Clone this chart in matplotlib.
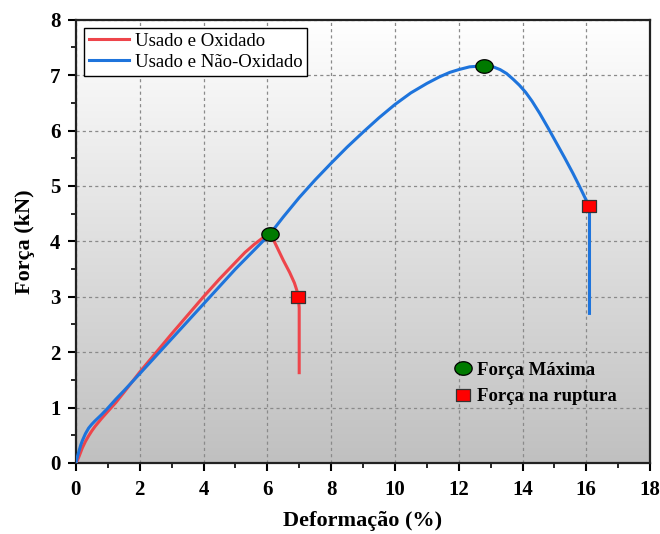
import numpy as np
import matplotlib
matplotlib.use("Agg")
import matplotlib.pyplot as plt
from matplotlib.path import Path
from matplotlib.lines import Line2D
from matplotlib.colors import LinearSegmentedColormap

# --- data ---
x_oxid = [0, 0.05, 0.1, 0.2, 0.3, 0.4, 0.5, 0.6, 0.8, 1.0, 1.25, 1.5, 2.0, 3.0, 4.0, 4.5, 5.0,
          5.3, 5.6, 5.85, 6.08, 6.15, 6.3, 6.5, 6.7, 6.85, 6.94, 6.97, 7.0, 7.0]
y_oxid = [0, 0.05, 0.12, 0.27, 0.39, 0.49, 0.58, 0.66, 0.80, 0.93, 1.09, 1.27, 1.64, 2.33, 3.00, 3.32, 3.62,
          3.80, 3.95, 4.06, 4.13, 4.08, 3.90, 3.66, 3.44, 3.25, 3.09, 2.99, 2.80, 1.63]

x_nao = [0, 0.05, 0.1, 0.15, 0.2, 0.3, 0.4, 0.5, 0.6, 0.8, 1.0, 1.25, 1.5, 2.0, 3.0, 4.0, 5.0,
         6.08, 6.5, 7.0, 7.5, 8.0, 8.5, 9.0, 9.5, 10.0, 10.5, 11.0, 11.4, 11.72, 12.0, 12.34,
         12.8, 13.08, 13.3, 13.5, 13.7, 13.9, 14.1, 14.3, 14.54, 14.8, 15.06, 15.32, 15.58,
         15.79, 16.0, 16.07, 16.1, 16.1]
y_nao = [0, 0.12, 0.22, 0.32, 0.40, 0.53, 0.63, 0.70, 0.76, 0.87, 0.99, 1.15, 1.30, 1.61, 2.24, 2.87, 3.50,
         4.13, 4.44, 4.79, 5.11, 5.41, 5.70, 5.97, 6.23, 6.47, 6.68, 6.85, 6.97, 7.05, 7.10, 7.15,
         7.17, 7.15, 7.10, 7.03, 6.93, 6.82, 6.69, 6.53, 6.31, 6.05, 5.78, 5.51, 5.23,
         4.99, 4.74, 4.63, 4.55, 2.70]

x_max = [6.08, 12.8]
y_max = [4.13, 7.17]
x_rup = [6.97, 16.07]
y_rup = [2.99, 4.63]

xticks = [0, 2, 4, 6, 8, 10, 12, 14, 16, 18]
yticks = [0, 1, 2, 3, 4, 5, 6, 7, 8]

red = '#EE454B'
blue = '#1E74DC'

plt.rcParams['font.family'] = ['Liberation Serif', 'DejaVu Serif']

# slightly wide marker shapes, like in the picture
t = np.linspace(0, 2*np.pi, 60)
ell = Path(np.column_stack([np.cos(t), 0.78*np.sin(t)]), closed=True)
rect = Path([(-1, -0.8), (1, -0.8), (1, 0.8), (-1, 0.8), (-1, -0.8)], closed=True)

fig = plt.figure(figsize=(6.6, 5.34), dpi=100)
ax = fig.add_axes([0.115, 0.133, 0.870, 0.830])

# vertical gradient background
grad = np.linspace(1.0, 0.0, 256).reshape(-1, 1)
cmap = LinearSegmentedColormap.from_list('bg', ['#c0c0c0', '#ffffff'])
ax.imshow(grad, extent=[0, 18, 0, 8], aspect='auto', cmap=cmap, origin='upper', zorder=0,
          vmin=0, vmax=1)

ax.grid(True, color='#8a8a8a', linestyle=(0, (2.5, 2.5)), linewidth=0.9, zorder=1)

ax.plot(x_oxid, y_oxid, color=red, lw=2.2, label='Usado e Oxidado', zorder=3)
ax.plot(x_nao, y_nao, color=blue, lw=2.2, label='Usado e Não-Oxidado', zorder=3)

ax.plot(x_max, y_max, ls='none', marker=ell, ms=12.5, mfc='#007A00', mec='black', mew=0.9, zorder=5)
ax.plot(x_rup, y_rup, ls='none', marker=rect, ms=10.5, mfc='#FF0000', mec='#333333', mew=0.9, zorder=5)

ax.set_xlim(0, 18)
ax.set_ylim(0, 8)
ax.set_xticks(xticks)
ax.set_yticks(yticks)
ax.set_xticks(np.arange(1, 18, 2), minor=True)
ax.set_yticks(np.arange(0.5, 8, 1), minor=True)
ax.tick_params(which='major', direction='out', length=6, width=1.5, labelsize=15)
ax.tick_params(axis='x', which='major', pad=6)
ax.tick_params(axis='y', which='major', pad=5)
ax.tick_params(which='minor', direction='out', length=3.5, width=1.2)
for lbl in ax.get_xticklabels() + ax.get_yticklabels():
    lbl.set_fontweight('bold')

for s in ax.spines.values():
    s.set_linewidth(1.6)
    s.set_color('#222222')

ax.set_xlabel('Deformação (%)', fontsize=16, fontweight='bold', labelpad=8)
ax.set_ylabel('Força (kN)', fontsize=16, fontweight='bold', labelpad=11)

leg1 = ax.legend(loc='upper left', fontsize=13.5, frameon=True, fancybox=False, edgecolor='black',
                 framealpha=1, facecolor='white', borderpad=0.25, handlelength=2.15, handletextpad=0.3,
                 labelspacing=0.2, borderaxespad=0.45)
leg1.get_frame().set_linewidth(1.0)
ax.add_artist(leg1)

h_max = Line2D([], [], ls='none', marker=ell, ms=12.5, mfc='#007A00', mec='black', mew=0.9)
h_rup = Line2D([], [], ls='none', marker=rect, ms=10.5, mfc='#FF0000', mec='#333333', mew=0.9)
leg2 = ax.legend([h_max, h_rup], ['Força Máxima', 'Força na ruptura'], loc='upper left',
                 bbox_to_anchor=(0.658, 0.228), frameon=False, borderpad=0, borderaxespad=0,
                 handlelength=1.0, handletextpad=0.25, labelspacing=0.48,
                 prop={'size': 13.5, 'weight': 'bold'})

fig.savefig('out.png', dpi=100)
